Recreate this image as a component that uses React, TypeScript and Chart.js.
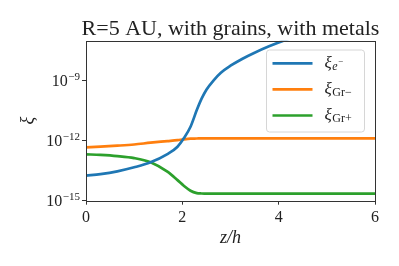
import React, { useEffect, useRef } from "react";
import { Chart, registerables } from "chart.js";

Chart.register(...registerables);

const zValues = [0, 0.3, 0.65, 1.0, 1.34, 1.69, 1.9, 2.03, 2.17, 2.3, 2.4, 2.5, 2.65, 2.8, 3.0, 3.25, 3.5, 3.8, 4.1, 4.5, 5, 5.5, 6];

const xiElectron = [
  1.78e-14, 2.14e-14, 2.95e-14, 4.68e-14, 8.32e-14, 2.14e-13, 5.01e-13, 1.32e-12, 5.01e-12,
  3.39e-11, 1.26e-10, 3.55e-10, 1.05e-9, 2.51e-9, 5.62e-9, 1.26e-8, 2.51e-8, 5.25e-8, 1.0e-7, 2.0e-7, 3.98e-7, 7.94e-7, 1.41e-6,
];

const xiGrMinus = [
  4.68e-13, 5.01e-13, 5.62e-13, 6.46e-13, 7.94e-13, 9.55e-13, 1.07e-12, 1.17e-12, 1.26e-12,
  1.29e-12, 1.32e-12, 1.32e-12, 1.32e-12, 1.32e-12, 1.32e-12, 1.32e-12, 1.32e-12, 1.32e-12, 1.32e-12, 1.32e-12, 1.32e-12, 1.32e-12, 1.32e-12,
];

const xiGrPlus = [
  2.09e-13, 1.95e-13, 1.7e-13, 1.35e-13, 8.32e-14, 2.82e-14, 1.07e-14, 5.62e-15, 3.16e-15,
  2.4e-15, 2.29e-15, 2.24e-15, 2.24e-15, 2.24e-15, 2.24e-15, 2.24e-15, 2.24e-15, 2.24e-15, 2.24e-15, 2.24e-15, 2.24e-15, 2.24e-15, 2.24e-15,
];

const xTicks = [0, 2, 4, 6];
const yTickValues = [1e-15, 1e-12, 1e-9];
const yTickExponents = ["\u221215", "\u221212", "\u22129"];

const titleText = "R=5 AU, with grains, with metals";
const xLabel = "z/h";
const yLabel = "\u03be";

const legendEntries = [
  { sub: "e", sup: "\u2212", italic: true },
  { sub: "Gr\u2212", sup: "", italic: false },
  { sub: "Gr+", sup: "", italic: false },
];

const colors = ["#1f77b4", "#ff7f0e", "#2ca02c"];
const SERIF = "'Liberation Serif', 'DejaVu Serif', serif";

const decorPlugin = {
  id: "decor",
  afterDraw(chart: any) {
    const ctx = chart.ctx as CanvasRenderingContext2D;
    const a = chart.chartArea;
    ctx.save();
    ctx.strokeStyle = "#333";
    ctx.lineWidth = 1;
    ctx.strokeRect(Math.round(a.left) + 0.5, Math.round(a.top) + 0.5, Math.round(a.right - a.left), Math.round(a.bottom - a.top));

    ctx.fillStyle = "#222";
    ctx.font = `22px ${SERIF}`;
    ctx.textAlign = "center";
    ctx.textBaseline = "alphabetic";
    ctx.fillText(titleText, (a.left + a.right) / 2, a.top - 5.5);

    ctx.font = `italic 18px ${SERIF}`;
    ctx.fillText(xLabel, (a.left + a.right) / 2, 243);

    ctx.save();
    ctx.translate(33, (a.top + a.bottom) / 2);
    ctx.rotate(-Math.PI / 2);
    ctx.font = `italic 18px ${SERIF}`;
    ctx.textAlign = "center";
    ctx.fillText(yLabel, 0, 0);
    ctx.restore();

    const ys = chart.scales.y;
    yTickValues.forEach((v, i) => {
      const py = ys.getPixelForValue(v);
      ctx.textAlign = "right";
      ctx.font = `11px ${SERIF}`;
      const ew = ctx.measureText(yTickExponents[i]).width;
      ctx.fillText(yTickExponents[i], 80, py - 1);
      ctx.font = `16px ${SERIF}`;
      ctx.fillText("10", 80 - ew - 0.5, py + 5.5);
    });

    const bx = 266.5, by = 50, bw = 98, bh = 82, r = 3;
    ctx.beginPath();
    ctx.moveTo(bx + r, by);
    ctx.lineTo(bx + bw - r, by);
    ctx.quadraticCurveTo(bx + bw, by, bx + bw, by + r);
    ctx.lineTo(bx + bw, by + bh - r);
    ctx.quadraticCurveTo(bx + bw, by + bh, bx + bw - r, by + bh);
    ctx.lineTo(bx + r, by + bh);
    ctx.quadraticCurveTo(bx, by + bh, bx, by + bh - r);
    ctx.lineTo(bx, by + r);
    ctx.quadraticCurveTo(bx, by, bx + r, by);
    ctx.closePath();
    ctx.fillStyle = "rgba(255,255,255,0.8)";
    ctx.fill();
    ctx.strokeStyle = "#d6d6d6";
    ctx.lineWidth = 1;
    ctx.stroke();

    const rows = [63.3, 89.3, 115.5];
    chart.data.datasets.forEach((ds: any, i: number) => {
      const ry = rows[i];
      ctx.strokeStyle = ds.borderColor;
      ctx.lineWidth = 2.7;
      ctx.beginPath();
      ctx.moveTo(272.5, ry);
      ctx.lineTo(312.5, ry);
      ctx.stroke();
      const e = legendEntries[i];
      ctx.fillStyle = "#222";
      ctx.textAlign = "left";
      ctx.font = `italic 17px ${SERIF}`;
      ctx.fillText(ds.label, 324.5, ry + 4.5);
      const xw = ctx.measureText(ds.label).width;
      ctx.font = `${e.italic ? "italic " : ""}12px ${SERIF}`;
      ctx.fillText(e.sub, 324.5 + xw + 0.5, ry + 6.5);
      const sw = ctx.measureText(e.sub).width;
      if (e.sup) {
        ctx.font = `9px ${SERIF}`;
        ctx.fillText(e.sup, 324.5 + xw + 0.5 + sw + 0.5, ry + 1);
      }
    });
    ctx.restore();
  },
};

export default function App() {
  const ref = useRef<HTMLCanvasElement | null>(null);

  useEffect(() => {
    document.body.style.margin = "0";
    const toPts = (arr: number[]) => zValues.map((z, i) => ({ x: z, y: arr[i] }));
    const chart = new Chart(ref.current as HTMLCanvasElement, {
      type: "line",
      data: {
        datasets: [
          { label: "\u03be", data: toPts(xiElectron), borderColor: colors[0], backgroundColor: colors[0] },
          { label: "\u03be", data: toPts(xiGrMinus), borderColor: colors[1], backgroundColor: colors[1] },
          { label: "\u03be", data: toPts(xiGrPlus), borderColor: colors[2], backgroundColor: colors[2] },
        ].map((d) => ({ ...d, borderWidth: 2.7, pointRadius: 0, cubicInterpolationMode: "monotone" as const, fill: false })),
      },
      options: {
        responsive: false,
        animation: false,
        events: [],
        layout: { padding: { top: 40.7, right: 24, left: 0, bottom: 0 } },
        plugins: { legend: { display: false }, title: { display: false }, tooltip: { enabled: false } },
        scales: {
          x: {
            type: "linear",
            min: 0,
            max: 6,
            afterFit: (s: any) => { s.height = 65.3; },
            afterBuildTicks: (s: any) => { s.ticks = xTicks.map((v) => ({ value: v })); },
            grid: { drawOnChartArea: false, drawTicks: true, tickLength: 4, color: "#333" },
            border: { display: false },
            ticks: { color: "#222", font: { family: SERIF, size: 16 }, padding: 3, maxRotation: 0 },
          },
          y: {
            type: "logarithmic",
            min: 1e-15,
            max: 1e-7,
            afterFit: (s: any) => { s.width = 86; },
            afterBuildTicks: (s: any) => { s.ticks = yTickValues.map((v) => ({ value: v })); },
            grid: { drawOnChartArea: false, drawTicks: true, tickLength: 4, color: "#333" },
            border: { display: false },
            ticks: { display: false },
          },
        },
      },
      plugins: [decorPlugin],
    });
    return () => chart.destroy();
  }, []);

  return (
    <div style={{ position: "absolute", left: 0, top: 0, width: 399, height: 266 }}>
      <canvas ref={ref} width={399} height={266} style={{ display: "block" }} />
    </div>
  );
}
